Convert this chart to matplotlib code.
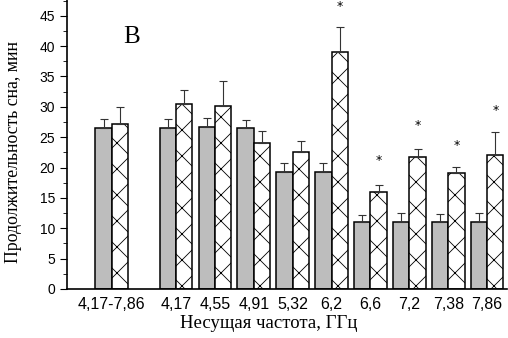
import numpy as np
import matplotlib.pyplot as plt
from matplotlib.ticker import MultipleLocator

# lower dpi gives a finer hatch; sizes are scaled so the picture stays the same
DPI = 78
S = 100 / DPI
plt.rcParams['hatch.linewidth'] = 0.6 * S

# Data
labels = ['4,17-7,86', '4,17', '4,55', '4,91', '5,32', '6,2', '6,6', '7,2', '7,38', '7,86']
control = [26.5, 26.5, 26.6, 26.5, 19.2, 19.2, 11.0, 11.1, 11.0, 11.1]
control_err = [1.5, 1.5, 1.6, 1.4, 1.6, 1.6, 1.2, 1.4, 1.3, 1.4]
exposed = [27.1, 30.5, 30.1, 24.0, 22.5, 39.0, 15.9, 21.8, 19.1, 22.0]
exposed_err = [2.9, 2.3, 4.1, 2.0, 1.8, 4.1, 1.2, 1.2, 1.0, 3.8]
signif = [False, False, False, False, False, True, True, True, True, True]
star_y = [0, 0, 0, 0, 0, 46.6, 21.1, 27.0, 23.7, 29.4]

# group positions: first group set apart from the rest
x = np.array([0] + [1.65 + i for i in range(9)])
w = 0.42

fig = plt.figure(figsize=(508 / DPI, 338 / DPI), dpi=DPI)
ax = fig.add_axes([0.132, 0.145, 0.866, 0.855])

ax.bar(x - w / 2, control, w, color='#bdbdbd', edgecolor='black', linewidth=1.1 * S)
ax.bar(x + w / 2, exposed, w, color='white', edgecolor='black', linewidth=1.1 * S, hatch='x')

ax.errorbar(x - w / 2, control, yerr=[np.zeros(len(x)), control_err], fmt='none',
            ecolor='#333333', elinewidth=0.8 * S, capsize=3 * S, capthick=0.8 * S)
ax.errorbar(x + w / 2, exposed, yerr=[np.zeros(len(x)), exposed_err], fmt='none',
            ecolor='#333333', elinewidth=0.8 * S, capsize=3 * S, capthick=0.8 * S)

for xi, s, sy in zip(x, signif, star_y):
    if s:
        ax.text(xi + w / 2, sy, '*', ha='center', va='center', fontsize=9 * S, clip_on=False)

ax.text(0.5, 41.5, 'В', fontsize=18 * S, family='Liberation Serif', ha='center', va='center')

ax.set_xlim(-1.15, 10.16)
ax.set_ylim(0, 47.6)
ax.set_xticks(x)
ax.set_xticklabels(labels, family='Liberation Sans', fontsize=11.5 * S)
ax.tick_params(axis='x', length=0, pad=6 * S)
ax.yaxis.set_major_locator(MultipleLocator(5))
ax.yaxis.set_minor_locator(MultipleLocator(2.5))
ax.tick_params(axis='y', which='major', direction='out', length=5 * S, width=0.8 * S,
               labelsize=10 * S, pad=3.5 * S)
ax.tick_params(axis='y', which='minor', direction='out', length=3 * S, width=0.6 * S)
for lab in ax.get_yticklabels():
    lab.set_family('Liberation Sans')

ax.spines['top'].set_visible(False)
ax.spines['right'].set_visible(False)
ax.spines['left'].set_linewidth(1.2 * S)
ax.spines['bottom'].set_linewidth(1.2 * S)

ax.set_ylabel('Продолжительность сна, мин', family='Liberation Serif', fontsize=12.8 * S)
ax.yaxis.set_label_coords(-0.102, 0.474)
ax.set_xlabel('Несущая частота, ГГц', family='Liberation Serif', fontsize=13.5 * S)
ax.xaxis.set_label_coords(0.459, -0.09)

fig.savefig('out.png', dpi=DPI)
